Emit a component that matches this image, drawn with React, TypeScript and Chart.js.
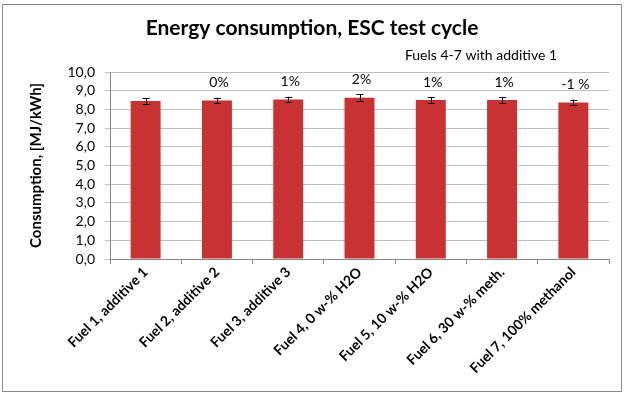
import React, { useEffect, useRef } from "react";
import { Chart, registerables } from "chart.js";

Chart.register(...registerables);

const categories = [
  "Fuel 1, additive 1",
  "Fuel 2, additive 2",
  "Fuel 3, additive 3",
  "Fuel 4, 0 w-% H2O",
  "Fuel 5, 10 w-% H2O",
  "Fuel 6, 30 w-% meth.",
  "Fuel 7, 100% methanol",
];
const consumption = [8.45, 8.47, 8.53, 8.62, 8.5, 8.5, 8.37];
const errors = [0.16, 0.15, 0.15, 0.18, 0.15, 0.15, 0.15];
const changeLabels = ["", "0%", "1%", "2%", "1%", "1%", "-1 %"];
const yTicks = [0, 1, 2, 3, 4, 5, 6, 7, 8, 9, 10];

const FONT = "Lato, 'Open Sans', sans-serif";

export default function App() {
  const ref = useRef<HTMLCanvasElement>(null);
  useEffect(() => {
    document.body.style.margin = "0";
    const canvas = ref.current!;
    const ctx = canvas.getContext("2d")!;
    const overlay = {
      id: "overlay",
      afterDatasetsDraw(chart: any) {
        const c = chart.ctx;
        const meta = chart.getDatasetMeta(0);
        const ys = chart.scales.y;
        c.save();
        meta.data.forEach((bar: any, i: number) => {
          const x = bar.x;
          const top = ys.getPixelForValue(consumption[i] + errors[i]);
          const bot = ys.getPixelForValue(consumption[i] - errors[i]);
          c.strokeStyle = "#000";
          c.lineWidth = 1;
          c.beginPath();
          c.moveTo(Math.round(x) + 0.5, top);
          c.lineTo(Math.round(x) + 0.5, bot);
          c.moveTo(x - 3, Math.round(top) + 0.5);
          c.lineTo(x + 4, Math.round(top) + 0.5);
          c.moveTo(x - 3, Math.round(bot) + 0.5);
          c.lineTo(x + 4, Math.round(bot) + 0.5);
          c.stroke();
          if (changeLabels[i]) {
            c.fillStyle = "#000";
            c.font = `14px ${FONT}`;
            c.textAlign = "center";
            c.textBaseline = "middle";
            c.fillText(changeLabels[i], x + 2, bar.y - 18);
          }
        });
        c.fillStyle = "#000";
        c.font = `bold 21px ${FONT}`;
        c.textAlign = "center";
        c.textBaseline = "middle";
        c.fillText("Energy consumption, ESC test cycle", 312, 28);
        c.font = `14px ${FONT}`;
        c.textAlign = "right";
        c.fillText("Fuels 4-7 with additive 1", 557, 55);
        c.restore();
      },
    };
    const chart = new Chart(ctx, {
      type: "bar",
      data: {
        labels: categories,
        datasets: [
          {
            data: consumption,
            backgroundColor: (context: any) => {
              const el = context.chart.getDatasetMeta(0).data[context.dataIndex];
              if (!el || el.x === undefined) return "#c83232";
              const w = el.width || 30;
              const g = context.chart.ctx.createLinearGradient(el.x - w / 2, 0, el.x + w / 2, 0);
              g.addColorStop(0, "#b02a2a");
              g.addColorStop(0.15, "#cf3a3a");
              g.addColorStop(0.5, "#d94444");
              g.addColorStop(0.85, "#c83636");
              g.addColorStop(1, "#a52626");
              return g;
            },
            borderWidth: 0,
            categoryPercentage: 1,
            barPercentage: 0.42,
          },
        ],
      },
      options: {
        animation: false,
        responsive: false,
        maintainAspectRatio: false,
        layout: { padding: { left: 27, right: 18, top: 72, bottom: 0 } },
        plugins: {
          legend: { display: false },
          tooltip: { enabled: false },
          title: { display: false },
        },
        scales: {
          x: {
            offset: true,
            grid: {
              display: true,
              drawOnChartArea: false,
              drawTicks: true,
              tickLength: 5,
              color: "#888",
              offset: true,
            },
            border: { color: "#888" },
            ticks: {
              maxRotation: 45,
              minRotation: 45,
              autoSkip: false,
              color: "#000",
              font: { family: FONT, size: 14, weight: "bold" },
              padding: 0,
            },
            afterFit: (s: any) => {
              s.height = 136;
            },
          },
          y: {
            min: 0,
            max: 10,
            afterBuildTicks: (s: any) => {
              s.ticks = yTicks.map((v) => ({ value: v }));
            },
            grid: { color: "#c0c0c0", tickLength: 5 },
            border: { color: "#888" },
            ticks: {
              autoSkip: false,
              color: "#000",
              padding: 10,
              font: { family: FONT, size: 14 },
              callback: (v: any) => Number(v).toFixed(1).replace(".", ","),
            },
            title: {
              display: true,
              text: "Consumption, [MJ/kWh]",
              color: "#000",
              font: { family: FONT, size: 15, weight: "bold" },
              padding: 0,
            },
            afterFit: (s: any) => {
              s.width = 83;
            },
          },
        },
      },
      plugins: [overlay],
    });
    return () => chart.destroy();
  }, []);
  return (
    <div style={{ position: "relative", width: 627, height: 395, background: "#fff" }}>
      <div
        style={{
          position: "absolute",
          left: 2,
          top: 4,
          width: 618,
          height: 386,
          border: "1px solid #888",
        }}
      />
      <canvas ref={ref} width={627} height={395} style={{ position: "absolute", left: 0, top: 0 }} />
    </div>
  );
}
